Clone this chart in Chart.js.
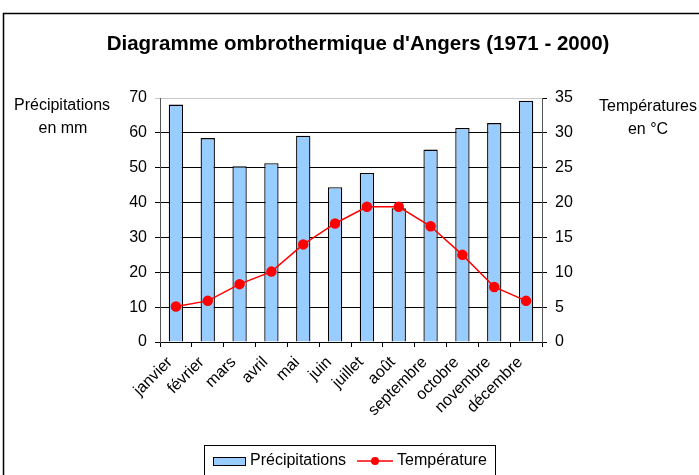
<!DOCTYPE html>
<html>
<head>
<meta charset="utf-8">
<script src="https://cdn.jsdelivr.net/npm/chart.js@4/dist/chart.umd.min.js"></script>
<style>
  body { margin: 0; background: #fff; }
  canvas { display: block; }
</style>
</head>
<body>
<canvas id="chart" width="699" height="475"></canvas>
<script>
const months = ['janvier', 'février', 'mars', 'avril', 'mai', 'juin', 'juillet', 'août', 'septembre', 'octobre', 'novembre', 'décembre'];
const precipitations = [68.1, 58.5, 50.4, 51.3, 59.2, 44.4, 48.5, 38.4, 55.2, 61.4, 62.8, 69.2];
const temperatures = [5.1, 5.9, 8.3, 10.1, 14.0, 17.0, 19.4, 19.4, 16.6, 12.5, 7.9, 5.9];
const precipTicks = [0, 10, 20, 30, 40, 50, 60, 70];
const tempTicks = [0, 5, 10, 15, 20, 25, 30, 35];

const FONT = 'Arial, "Liberation Sans", sans-serif';

// textes autour du graphique, cadre et légende
const extras = {
    id: 'extras',
    afterDraw(chart) {
        const ctx = chart.ctx;
        ctx.save();

        // cadre
        ctx.strokeStyle = '#000';
        ctx.lineWidth = 1.5;
        ctx.beginPath();
        ctx.moveTo(3.5, 475);
        ctx.lineTo(3.5, 13.5);
        ctx.lineTo(699, 13.5);
        ctx.stroke();

        // titre
        ctx.fillStyle = '#000';
        ctx.font = 'bold 20.5px ' + FONT;
        ctx.textAlign = 'center';
        ctx.textBaseline = 'middle';
        ctx.fillText("Diagramme ombrothermique d'Angers (1971 - 2000)", 358, 44);

        // titres des axes
        ctx.font = '16px ' + FONT;
        ctx.fillText('Précipitations', 62, 106);
        ctx.fillText('en mm', 63, 129);
        ctx.fillText('Températures', 648, 107);
        ctx.fillText('en °C', 648, 130);

        // légende
        ctx.lineWidth = 1;
        ctx.strokeStyle = '#000';
        ctx.strokeRect(204.5, 445.5, 291, 40);
        ctx.fillStyle = '#99CCFF';
        ctx.fillRect(213, 457, 32, 8);
        ctx.strokeRect(213.5, 457.5, 32, 8);
        ctx.fillStyle = '#000';
        ctx.textAlign = 'left';
        ctx.fillText('Précipitations', 250, 461);
        ctx.strokeStyle = '#FF0000';
        ctx.lineWidth = 1.5;
        ctx.beginPath();
        ctx.moveTo(357, 461);
        ctx.lineTo(393, 461);
        ctx.stroke();
        ctx.fillStyle = '#FF0000';
        ctx.beginPath();
        ctx.arc(375, 461, 4, 0, Math.PI * 2);
        ctx.fill();
        ctx.fillStyle = '#000';
        ctx.fillText('Température', 397, 461);

        ctx.restore();
    }
};

new Chart(document.getElementById('chart'), {
    type: 'bar',
    data: {
        labels: months,
        datasets: [{
            type: 'line',
            label: 'Température',
            data: temperatures,
            yAxisID: 'y1',
            borderColor: '#FF0000',
            borderWidth: 1.5,
            pointRadius: 4.5,
            pointBackgroundColor: '#FF0000',
            pointBorderColor: '#FF0000',
            tension: 0,
            order: 0
        }, {
            type: 'bar',
            label: 'Précipitations',
            data: precipitations,
            yAxisID: 'y',
            backgroundColor: '#99CCFF',
            borderColor: '#000',
            borderWidth: 1.3,
            categoryPercentage: 1,
            barPercentage: 0.45,
            order: 1
        }]
    },
    options: {
        responsive: false,
        animation: false,
        devicePixelRatio: 1,
        layout: { padding: { top: 98, left: 0, right: 0, bottom: 0 } },
        plugins: {
            legend: { display: false },
            title: { display: false },
            tooltip: { enabled: false }
        },
        scales: {
            x: {
                offset: true,
                grid: { offset: true, drawOnChartArea: false, tickLength: 5, color: '#000' },
                border: { color: '#000' },
                ticks: {
                    minRotation: 45,
                    maxRotation: 45,
                    color: '#000',
                    font: { family: FONT, size: 16 },
                    padding: 6,
                    labelOffset: -6
                },
                afterFit(scale) { scale.height = 133; }
            },
            y: {
                position: 'left',
                min: 0,
                max: 70,
                afterBuildTicks(scale) { scale.ticks = precipTicks.map(v => ({ value: v })); },
                grid: {
                    tickLength: 5,
                    color: ctx => (ctx.tick && ctx.tick.value === 70) ? '#c8c8c8' : '#000'
                },
                border: { color: '#555' },
                ticks: { color: '#000', font: { family: FONT, size: 16 }, padding: 8 },
                afterFit(scale) { scale.width = 160; }
            },
            y1: {
                position: 'right',
                min: 0,
                max: 35,
                afterBuildTicks(scale) { scale.ticks = tempTicks.map(v => ({ value: v })); },
                grid: { drawOnChartArea: false, tickLength: 5, color: '#000' },
                border: { color: '#555' },
                ticks: { color: '#000', font: { family: FONT, size: 16 }, padding: 8 },
                afterFit(scale) { scale.width = 157; }
            }
        }
    },
    plugins: [extras]
});
</script>
</body>
</html>
